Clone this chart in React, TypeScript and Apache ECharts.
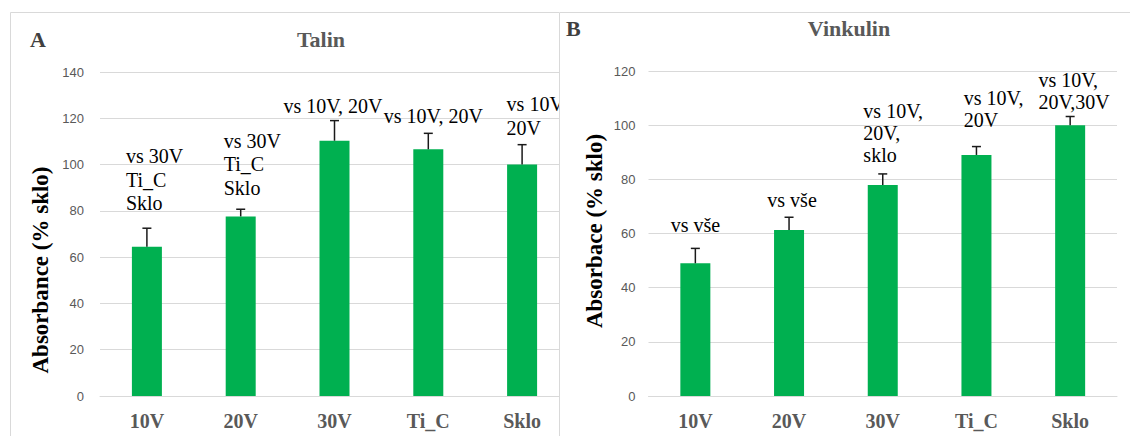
import React, { useEffect, useRef } from "react";
import * as echarts from "echarts";

// ---- data ----
const categories = ["10V", "20V", "30V", "Ti_C", "Sklo"];
const yTicksTalin = { min: 0, max: 140, interval: 20 };
const yTicksVinkulin = { min: 0, max: 120, interval: 20 };

const talinValues = [64.5, 77.6, 110.3, 106.6, 100];
const talinErrors = [8.0, 3.1, 8.7, 6.9, 8.6];
const talinNotes = ["vs 30V\nTi_C\nSklo", "vs 30V\nTi_C\nSklo", "vs 10V, 20V", "vs 10V, 20V", "vs 10V,\n20V"];

const vinkulinValues = [49, 61.3, 77.9, 89.0, 100];
const vinkulinErrors = [5.5, 4.7, 4.1, 3.1, 3.2];
const vinkulinNotes = ["vs vše", "vs vše", "vs 10V,\n20V,\nsklo", "vs 10V,\n20V", "vs 10V,\n20V,30V"];

// ---- layout (pixel offsets of annotations, not data) ----
const talinNoteLayout = {
  dx: [-21, -17, -1.5, 5, -15.5],
  align: ["left", "left", "center", "center", "left"],
  gap: [13, 9.7, 2.8, 5.4, 5],
};
const vinkulinNoteLayout = {
  dx: [0, 3, -19.4, -12.7, -31.7],
  align: ["center", "center", "left", "left", "left"],
  gap: [12, 6, 7.7, 15.4, 3.4],
};

const SERIF = "Liberation Serif";
const SANS = "Liberation Sans";
const GREEN = "#00b050";
const GRID = "#d9d9d9";

function buildOption(p: any) {
  const errData = p.values.map((v: number, i: number) => [i, v, p.errors[i]]);
  return {
    animation: false,
    grid: { left: p.gridLeft, top: p.gridTop, width: p.gridWidth, height: p.gridHeight, containLabel: false },
    xAxis: {
      type: "category",
      data: categories,
      axisLine: { show: true, lineStyle: { color: GRID, width: 1 } },
      axisTick: { show: false },
      axisLabel: { margin: 15, fontFamily: SERIF, fontWeight: "bold", fontSize: 20, color: "#595959" },
    },
    yAxis: {
      type: "value",
      min: p.ticks.min,
      max: p.ticks.max,
      interval: p.ticks.interval,
      axisLine: { show: false },
      axisTick: { show: false },
      splitLine: { lineStyle: { color: GRID, width: 1 } },
      axisLabel: { margin: p.labelMargin, fontFamily: SANS, fontSize: 13, color: "#595959" },
    },
    graphic: [
      { type: "rect", silent: true, z: -1, shape: { x: p.borderX, y: 12.5, width: 1200, height: 600 }, style: { fill: "none", stroke: GRID, lineWidth: 1 } },
      { type: "text", x: p.letterX, y: p.titleY, style: { text: p.letter, fontFamily: SERIF, fontWeight: "bold", fontSize: 22, fill: "#404040", textAlign: "left", textVerticalAlign: "middle" } },
      { type: "text", x: p.titleX, y: p.titleY, style: { text: p.title, fontFamily: SERIF, fontWeight: "bold", fontSize: 22, fill: "#595959", textAlign: "center", textVerticalAlign: "middle" } },
      { type: "text", x: p.yNameX, y: p.yNameY, rotation: Math.PI / 2, style: { text: p.yName, fontFamily: SERIF, fontWeight: "bold", fontSize: 23, fill: "#000", textAlign: "center", textVerticalAlign: "middle" } },
    ],
    series: [
      {
        type: "bar",
        data: p.values,
        barWidth: 30,
        itemStyle: { color: GREEN },
        z: 2,
      },
      {
        type: "custom",
        z: 3,
        clip: false,
        data: errData,
        renderItem: (params: any, api: any) => {
          const i = api.value(0);
          const v = api.value(1);
          const e = api.value(2);
          const p0 = api.coord([i, v]);
          const p1 = api.coord([i, v + e]);
          const lay = p.noteLayout;
          return {
            type: "group",
            children: [
              { type: "line", shape: { x1: p0[0], y1: p0[1], x2: p1[0], y2: p1[1] }, style: { stroke: "#1a1a1a", lineWidth: 1.5 } },
              { type: "line", shape: { x1: p1[0] - 4.5, y1: p1[1], x2: p1[0] + 4.5, y2: p1[1] }, style: { stroke: "#1a1a1a", lineWidth: 1.5 } },
              {
                type: "text",
                x: p1[0] + lay.dx[i],
                y: p1[1] - lay.gap[i],
                style: {
                  text: p.notes[i],
                  fontFamily: SERIF,
                  fontSize: 20,
                  fill: "#000",
                  lineHeight: p.noteLineHeight,
                  align: lay.align[i],
                  verticalAlign: "bottom",
                },
              },
            ],
          };
        },
      },
    ],
  };
}

function Chart({ option, width, height }: any) {
  const ref = useRef<HTMLDivElement>(null);
  useEffect(() => {
    if (!ref.current) return;
    const chart = echarts.init(ref.current, null, { renderer: "svg" });
    chart.setOption(option);
    return () => chart.dispose();
  }, []);
  return <div ref={ref} style={{ width, height }} />;
}

export default function App() {
  const talinOpt = buildOption({
    values: talinValues,
    errors: talinErrors,
    notes: talinNotes,
    noteLayout: talinNoteLayout,
    noteLineHeight: 23.5,
    ticks: yTicksTalin,
    gridLeft: 100,
    gridTop: 72,
    gridWidth: 469,
    gridHeight: 324,
    labelMargin: 16,
    borderX: 10.5,
    letter: "A",
    letterX: 30,
    title: "Talin",
    titleX: 321,
    titleY: 39,
    yName: "Absorbance (% sklo)",
    yNameX: 40,
    yNameY: 270,
  });
  const vinkulinOpt = buildOption({
    values: vinkulinValues,
    errors: vinkulinErrors,
    notes: vinkulinNotes,
    noteLayout: vinkulinNoteLayout,
    noteLineHeight: 22,
    ticks: yTicksVinkulin,
    gridLeft: 89.5,
    gridTop: 71,
    gridWidth: 468.5,
    gridHeight: 325,
    labelMargin: 13,
    borderX: 0.5,
    letter: "B",
    letterX: 7,
    title: "Vinkulin",
    titleX: 290,
    titleY: 28,
    yName: "Absorbace (% sklo)",
    yNameX: 35,
    yNameY: 231,
  });
  return (
    <div style={{ position: "fixed", left: 0, top: 0, width: 1130, height: 436, background: "#fff", overflow: "hidden" }}>
      <div style={{ position: "absolute", left: 0, top: 0, width: 559, height: 436, overflow: "hidden" }}>
        <Chart option={talinOpt} width={620} height={436} />
      </div>
      <div style={{ position: "absolute", left: 559, top: 0, width: 571, height: 436, overflow: "hidden", background: "#fff" }}>
        <Chart option={vinkulinOpt} width={571} height={436} />
      </div>
    </div>
  );
}
